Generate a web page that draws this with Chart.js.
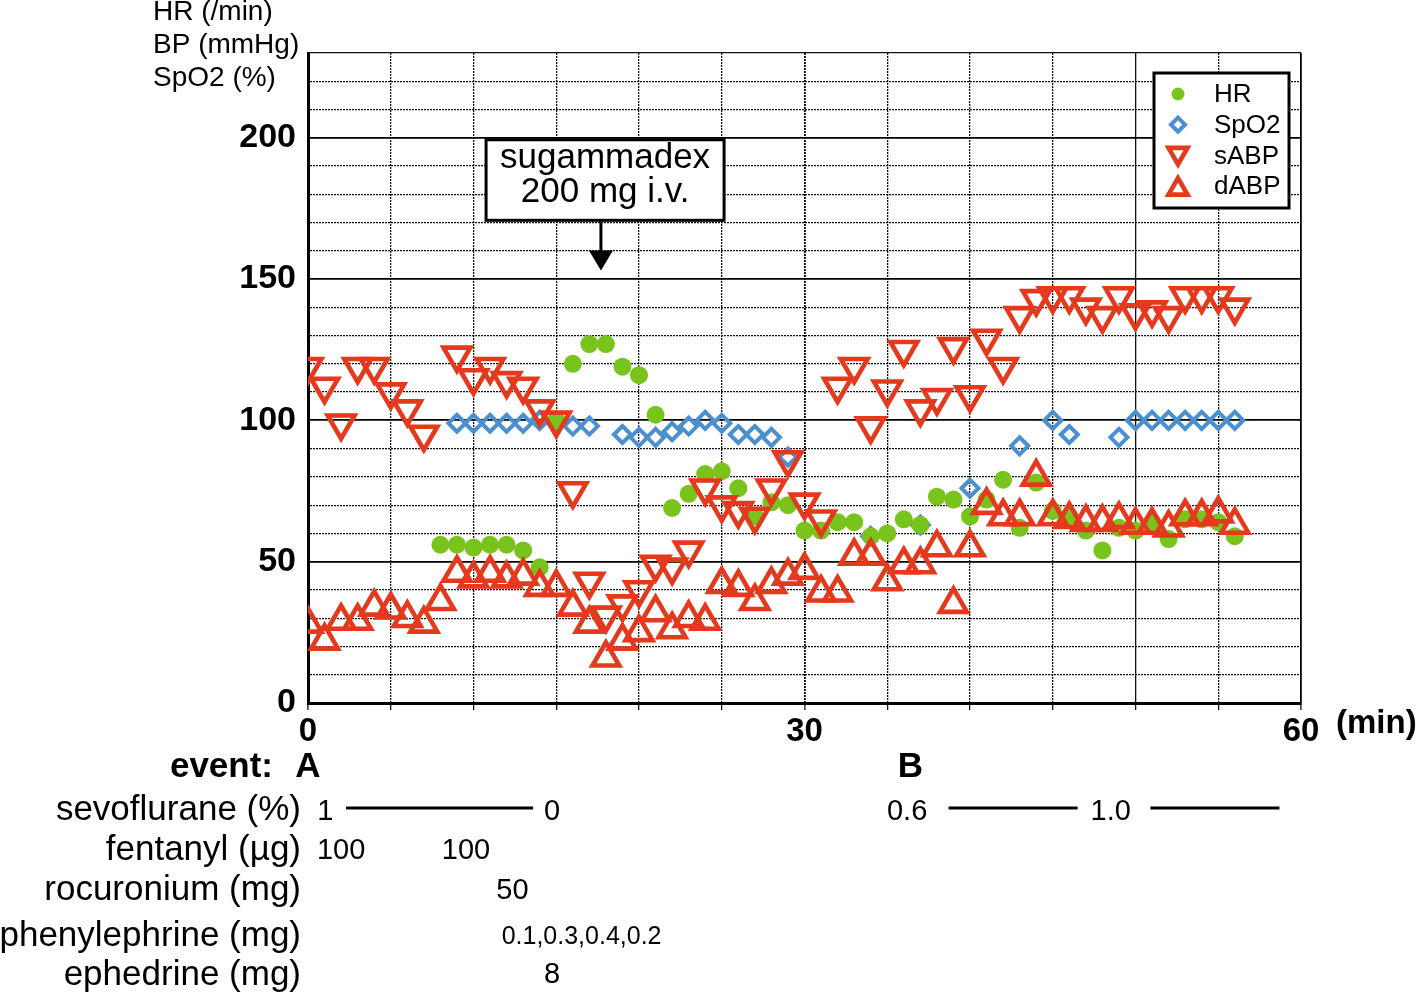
<!DOCTYPE html>
<html>
<head>
<meta charset="utf-8">
<script src="https://cdn.jsdelivr.net/npm/chart.js@4.4.1/dist/chart.umd.min.js"></script>
<style>
  html, body { margin: 0; padding: 0; background: #fff; }
  #wrap { position: relative; width: 1418px; height: 995px; }
</style>
</head>
<body>
<div id="wrap"><canvas id="vitals"></canvas></div>
<script>
// time in minutes after start
const minutes = [0, 1, 2, 3, 4, 5, 6, 7, 8, 9, 10, 11, 12, 13, 14, 15, 16, 17, 18, 19,
    20, 21, 22, 23, 24, 25, 26, 27, 28, 29, 30, 31, 32, 33, 34, 35, 36, 37, 38, 39,
    40, 41, 42, 43, 44, 45, 46, 47, 48, 49, 50, 51, 52, 53, 54, 55, 56];

const hrValues = [null, null, null, null, null, null, null, null, 56, 56, 55, 56, 56, 54, 48, 100, 120, 127, 127, 119,
    116, 102, 69, 74, 81, 82, 76, 66, 71, 70, 61, 61, 64, 64, 59, 60, 65, 63, 73, 72,
    66, 72, 79, 62, 78, 68, 66, 61, 54, 62, 61, 64, 58, 65, 65, 64, 59];

const spo2Values = [null, null, null, null, null, null, null, null, null, 99, 99, 99, 99, 99, 100, 99, 98, 98, null, 95,
    94, 94, 96, 98, 100, 99, 95, 95, 94, 87, null, null, null, null, 59, null, null, 63, null, null,
    76, null, null, 91, null, 100, 95, null, null, 94, 100, 100, 100, 100, 100, 100, 100];

const sabpValues = [119, 112, 99, 119, 119, 110, 104, 95, null, 123, 115, 119, 114, 112, 104, 100, 75, 43, 31, 35,
    40, 49, 48, 54, 76, 70, 68, 66, 76, 86, 71, 65, 112, 119, 98, 111, 125, 104, 108, 126,
    109, 129, 119, 137, 143, 144, 144, 140, 137, 144, 138, 139, 137, 144, 144, 144, 140];

const dabpValues = [28, 22, 29, 29, 34, 33, 30, 28, 36, 46, 44, 46, 44, 45, 41, 41, 34, 28, 16, 22,
    25, 32, 26, 30, 29, 42, 41, 36, 42, 45, 47, 39, 39, 52, 52, 43, 49, 49, 55, 35,
    55, 70, 66, 66, 80, 66, 65, 64, 64, 65, 63, 63, 62, 66, 66, 67, 63];

const yTicks = [0, 50, 100, 150, 200];
const xTicks = [0, 30, 60];

// medication rows under the time axis
const rowLabels = ['sevoflurane (%)', 'fentanyl (\u00b5g)', 'rocuronium (mg)', 'phenylephrine (mg)', 'ephedrine (mg)'];
const sevoMarks = [[1.05, '1'], [14.75, '0'], [36.2, '0.6'], [48.5, '1.0']];
const sevoBars = [[2.3, 13.6], [38.7, 46.5], [50.9, 58.7]];
const fentanylMarks = [[2, '100'], [9.55, '100']];
const rocuroniumMarks = [[12.35, '50']];
const phenylephrineMarks = [[11.7, '0.1,0.3,0.4,0.2']];
const ephedrineMarks = [[14.75, '8']];
const eventMarks = [[0, 'A'], [36.4, 'B']];

const RED = '#e5391d';
const GREEN = '#78c31c';
const BLUE = '#4a8fd0';
const FONT = "'Liberation Sans', Arial, sans-serif";

const toPoints = (vals) => minutes.map((m, i) => ({ x: m, y: vals[i] })).filter(p => p.y !== null);

const dotted = (ctx, max) => {
    if (!ctx.tick) return [];
    const v = ctx.tick.value;
    return (v % 50 === 0 || v === max) ? [] : [2, 1];
};

const extras = {
    id: 'extras',
    afterDraw(chart) {
        const { ctx, scales: { x, y } } = chart;
        ctx.save();
        ctx.fillStyle = '#000';
        ctx.strokeStyle = '#000';

        // axis title lines in the top-left corner
        ctx.font = '28px ' + FONT;
        ctx.textAlign = 'left';
        ctx.textBaseline = 'middle';
        ctx.fillText('HR (/min)', 153, 12);
        ctx.fillText('BP (mmHg)', 153, 45);
        ctx.fillText('SpO2 (%)', 153, 78);

        // unit of the time axis
        ctx.font = 'bold 33px ' + FONT;
        ctx.fillText('(min)', 1336, 724);

        // sugammadex note and arrow
        const bx = x.getPixelForValue(17.95);
        const top = y.getPixelForValue(199.3);
        const bot = y.getPixelForValue(170.8);
        ctx.fillStyle = '#fff';
        ctx.fillRect(bx - 119, top, 238, bot - top);
        ctx.lineWidth = 3;
        ctx.strokeRect(bx - 119, top, 238, bot - top);
        ctx.fillStyle = '#000';
        ctx.font = '35px ' + FONT;
        ctx.textAlign = 'center';
        ctx.fillText('sugammadex', bx, top + 19);
        ctx.fillText('200 mg i.v.', bx, top + 53);
        const ax = x.getPixelForValue(17.7);
        const tip = y.getPixelForValue(153);
        ctx.beginPath();
        ctx.moveTo(ax, bot);
        ctx.lineTo(ax, tip - 16);
        ctx.stroke();
        ctx.beginPath();
        ctx.moveTo(ax - 12, tip - 20);
        ctx.lineTo(ax + 12, tip - 20);
        ctx.lineTo(ax, tip);
        ctx.closePath();
        ctx.fill();

        // legend box
        ctx.fillStyle = '#fff';
        ctx.fillRect(1154, 73, 135, 135);
        ctx.lineWidth = 3;
        ctx.strokeRect(1154, 73, 135, 135);
        ctx.font = '26px ' + FONT;
        ctx.textAlign = 'left';
        chart.data.datasets.forEach((ds, i) => {
            const ly = 94 + i * 30.7;
            ctx.fillStyle = '#000';
            ctx.fillText(ds.label, 1214, ly + 1);
            ctx.strokeStyle = ds.borderColor;
            ctx.fillStyle = ds.backgroundColor;
            ctx.lineWidth = ds.borderWidth;
            const dy = ds.rotation === 180 ? -2 : (ds.pointStyle === 'triangle' ? 3 : 0);
            Chart.helpers.drawPoint(ctx, {
                pointStyle: ds.pointStyle,
                rotation: ds.rotation || 0,
                radius: ds.legendRadius,
                borderWidth: ds.borderWidth
            }, 1178, ly + dy);
        });
        ctx.fillStyle = '#000';
        ctx.strokeStyle = '#000';

        // drug table below the axis
        const rowY = [810, 850, 890, 936, 975];
        ctx.font = '35px ' + FONT;
        ctx.textAlign = 'right';
        rowLabels.forEach((t, i) => ctx.fillText(t, 301, rowY[i]));
        ctx.font = 'bold 35px ' + FONT;
        ctx.fillText('event:', 273, 767);
        ctx.textAlign = 'center';
        eventMarks.forEach(([m, t]) => ctx.fillText(t, x.getPixelForValue(m), 767));

        ctx.font = '29px ' + FONT;
        sevoMarks.forEach(([m, t]) => ctx.fillText(t, x.getPixelForValue(m), 812));
        ctx.lineWidth = 3;
        sevoBars.forEach(([a, b]) => {
            ctx.beginPath();
            ctx.moveTo(x.getPixelForValue(a), 808);
            ctx.lineTo(x.getPixelForValue(b), 808);
            ctx.stroke();
        });
        fentanylMarks.forEach(([m, t]) => ctx.fillText(t, x.getPixelForValue(m), 851));
        rocuroniumMarks.forEach(([m, t]) => ctx.fillText(t, x.getPixelForValue(m), 891));
        ctx.font = '25px ' + FONT;
        ctx.textAlign = 'left';
        phenylephrineMarks.forEach(([m, t]) => ctx.fillText(t, x.getPixelForValue(m), 937));
        ctx.textAlign = 'center';
        ctx.font = '29px ' + FONT;
        ephedrineMarks.forEach(([m, t]) => ctx.fillText(t, x.getPixelForValue(m), 975));
        ctx.restore();
    }
};

const canvas = document.getElementById('vitals');
const chart = new Chart(canvas.getContext('2d'), {
    type: 'scatter',
    data: {
        datasets: [
            { label: 'HR', data: toPoints(hrValues), pointStyle: 'circle', pointRadius: 9, legendRadius: 6.5,
              backgroundColor: GREEN, borderColor: GREEN, borderWidth: 0, order: 2 },
            { label: 'SpO2', data: toPoints(spo2Values), pointStyle: 'rectRot', pointRadius: 8.5, legendRadius: 7,
              backgroundColor: 'rgba(0,0,0,0)', borderColor: BLUE, borderWidth: 4, order: 3 },
            { label: 'sABP', data: toPoints(sabpValues), pointStyle: 'triangle', rotation: 180, pointRadius: 15.5, legendRadius: 11,
              backgroundColor: 'rgba(0,0,0,0)', borderColor: RED, borderWidth: 4.6, order: 1 },
            { label: 'dABP', data: toPoints(dabpValues), pointStyle: 'triangle', pointRadius: 15.5, legendRadius: 11,
              backgroundColor: 'rgba(0,0,0,0)', borderColor: RED, borderWidth: 4.6, order: 0 }
        ]
    },
    options: {
        responsive: true,
        maintainAspectRatio: false,
        animation: false,
        layout: { padding: { left: 0, top: 53, right: 117, bottom: 252 } },
        elements: { point: { hoverRadius: 15 } },
        scales: {
            x: {
                type: 'linear',
                min: 0,
                max: 60,
                afterFit: (s) => { s.height = 40; },
                afterBuildTicks: (s) => { s.ticks = Array.from({ length: 13 }, (_, i) => ({ value: i * 5 })); },
                ticks: {
                    callback: (v) => xTicks.includes(v) ? v : '',
                    autoSkip: false,
                    maxRotation: 0,
                    color: '#000',
                    padding: 2,
                    font: { family: FONT, size: 33, weight: 'bold' }
                },
                grid: {
                    color: (c) => (c.tick && (c.tick.value % 30 === 0)) ? '#000' : '#111',
                    lineWidth: (c) => (c.tick && (c.tick.value % 30 === 0)) ? 1.8 : 1.3,
                    drawTicks: true,
                    tickLength: 7,
                    tickColor: '#000',
                    tickWidth: 1.2
                },
                border: { display: true, color: '#000', width: 3, dash: (c) => dotted(c, 60) }
            },
            y: {
                min: 0,
                max: 230,
                afterFit: (s) => { s.width = 308; },
                ticks: {
                    stepSize: 10,
                    autoSkip: false,
                    callback: (v) => yTicks.includes(v) ? v : '',
                    color: '#000',
                    padding: 12,
                    font: { family: FONT, size: 34, weight: 'bold' }
                },
                grid: {
                    color: (c) => (c.tick && c.tick.value % 50 === 0) ? '#000' : '#111',
                    lineWidth: (c) => (c.tick && c.tick.value % 50 === 0) ? 1.8 : 1.3,
                    drawTicks: false
                },
                border: { display: true, color: '#000', width: 3, dash: (c) => dotted(c, 230) }
            }
        },
        plugins: {
            legend: { display: false },
            tooltip: { enabled: false }
        }
    },
    plugins: [extras]
});
</script>
</body>
</html>
